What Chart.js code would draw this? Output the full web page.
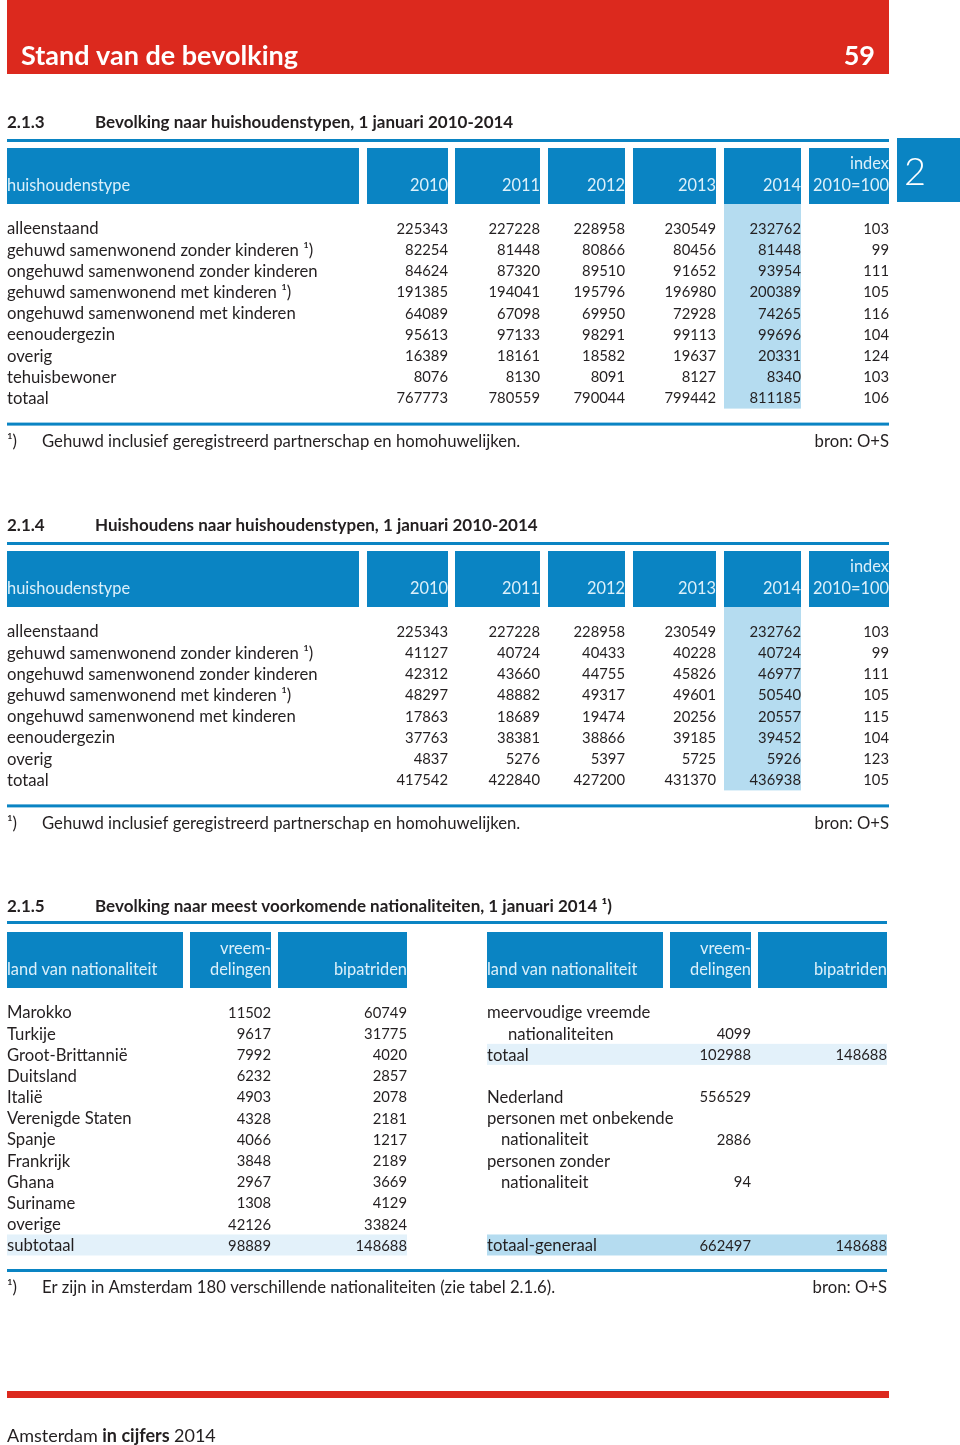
<!DOCTYPE html>
<html lang="nl">
<head>
<meta charset="UTF-8">
<title>Stand van de bevolking</title>
<script src="https://cdn.jsdelivr.net/npm/chart.js"></script>
<style>
  body { margin: 0; background: #fff; }
  canvas { display: block; }
</style>
</head>
<body>
<canvas id="pagina" width="960" height="1445"></canvas>
<script>
// tabel 2.1.3
const t213Types = ['alleenstaand', 'gehuwd samenwonend zonder kinderen \u00b9)', 'ongehuwd samenwonend zonder kinderen',
  'gehuwd samenwonend met kinderen \u00b9)', 'ongehuwd samenwonend met kinderen', 'eenoudergezin', 'overig', 'tehuisbewoner', 'totaal'];
const t213_2010 = [225343, 82254, 84624, 191385, 64089, 95613, 16389, 8076, 767773];
const t213_2011 = [227228, 81448, 87320, 194041, 67098, 97133, 18161, 8130, 780559];
const t213_2012 = [228958, 80866, 89510, 195796, 69950, 98291, 18582, 8091, 790044];
const t213_2013 = [230549, 80456, 91652, 196980, 72928, 99113, 19637, 8127, 799442];
const t213_2014 = [232762, 81448, 93954, 200389, 74265, 99696, 20331, 8340, 811185];
const t213_index = [103, 99, 111, 105, 116, 104, 124, 103, 106];

// tabel 2.1.4
const t214Types = ['alleenstaand', 'gehuwd samenwonend zonder kinderen \u00b9)', 'ongehuwd samenwonend zonder kinderen',
  'gehuwd samenwonend met kinderen \u00b9)', 'ongehuwd samenwonend met kinderen', 'eenoudergezin', 'overig', 'totaal'];
const t214_2010 = [225343, 41127, 42312, 48297, 17863, 37763, 4837, 417542];
const t214_2011 = [227228, 40724, 43660, 48882, 18689, 38381, 5276, 422840];
const t214_2012 = [228958, 40433, 44755, 49317, 19474, 38866, 5397, 427200];
const t214_2013 = [230549, 40228, 45826, 49601, 20256, 39185, 5725, 431370];
const t214_2014 = [232762, 40724, 46977, 50540, 20557, 39452, 5926, 436938];
const t214_index = [103, 99, 111, 105, 115, 104, 123, 105];

const jaren = ['2010', '2011', '2012', '2013', '2014'];

// tabel 2.1.5 links
const landen = ['Marokko', 'Turkije', 'Groot-Brittanni\u00eb', 'Duitsland', 'Itali\u00eb', 'Verenigde Staten', 'Spanje',
  'Frankrijk', 'Ghana', 'Suriname', 'overige', 'subtotaal'];
const vreemdelingen = [11502, 9617, 7992, 6232, 4903, 4328, 4066, 3848, 2967, 1308, 42126, 98889];
const bipatriden = [60749, 31775, 4020, 2857, 2078, 2181, 1217, 2189, 3669, 4129, 33824, 148688];

// tabel 2.1.5 rechts (null = leeg)
const overigLabels = ['meervoudige vreemde', 'nationaliteiten', 'totaal', '', 'Nederland', 'personen met onbekende',
  'nationaliteit', 'personen zonder', 'nationaliteit', '', '', 'totaal-generaal'];
const overigInspring = [0, 21, 0, 0, 0, 0, 14, 0, 14, 0, 0, 0];
const overigVreemd = [null, 4099, 102988, null, 556529, null, 2886, null, 94, null, null, 662497];
const overigBipatr = [null, null, 148688, null, null, null, null, null, null, null, null, 148688];

const BLAUW = '#0a84c3';
const LICHT = '#b5dcf0';
const ZACHT = '#e3f1fa';
const KOPTEKST = '#dcf0fa';
const TEKST = '#231f20';
const ROOD = '#dc291e';
const FONT = 'Lato, "Open Sans", sans-serif';
const LBL = 16.7;   // rijlabels
const NUM = 14.8;   // getallen

const tabelPlugin = {
  id: 'tabellen',
  afterDraw(chart) {
    const c = chart.ctx;
    const sx = chart.scales.x, sy = chart.scales.y;
    const X = v => sx.getPixelForValue(v);
    const Y = v => sy.getPixelForValue(v);
    const rect = (x0, y0, x1, y1, kleur) => {
      c.fillStyle = kleur;
      c.fillRect(X(x0), Y(y0), X(x1) - X(x0), Y(y1) - Y(y0));
    };
    const tekst = (t, x, y, opt = {}) => {
      c.font = (opt.w || '400') + ' ' + (opt.s || LBL) + 'px ' + FONT;
      c.fillStyle = opt.k || TEKST;
      c.textAlign = opt.a || 'left';
      c.textBaseline = 'middle';
      c.fillText(t, X(x), Y(y + 1));
    };
    const getal = (v, x, y) => tekst(String(v), x, y, { s: NUM, a: 'right' });
    const kop = (t, x, y, a) => tekst(t, x, y, { s: 16.4, k: KOPTEKST, a: a || 'left' });

    // paginakop
    rect(7, 0, 889, 74, ROOD);
    tekst('Stand van de bevolking', 21, 55, { s: 27, w: '700', k: '#fff' });
    tekst('59', 875, 55, { s: 27, w: '700', k: '#fff', a: 'right' });

    // hoofdstuktab
    rect(897, 138, 960, 202, BLAUW);
    tekst('2', 904, 172, { s: 38, w: '300', k: '#fff' });

    // tabel met jaren (2.1.3 en 2.1.4)
    const jaarTabel = (top, nr, titel, types, kolommen, index) => {
      tekst(nr, 7, top + 1, { s: 17, w: '700' });
      tekst(titel, 95, top + 1, { s: 17, w: '700' });
      rect(7, top + 18, 889, top + 21, BLAUW);
      const koppen = [[7, 359], [367, 448], [455, 540], [548, 625], [633, 716], [724, 801], [809, 889]];
      const r0 = top + 107, stap = 21.2;
      const onder = r0 + (types.length - 1) * stap + 11;
      rect(724, top + 83, 801, onder, LICHT);
      koppen.forEach(k => rect(k[0], top + 27, k[1], top + 83, BLAUW));
      kop('huishoudenstype', 7, top + 64);
      jaren.forEach((j, i) => kop(j, koppen[i + 1][1], top + 64, 'right'));
      kop('index', 889, top + 42, 'right');
      kop('2010=100', 889, top + 64, 'right');
      types.forEach((t, r) => {
        const y = r0 + r * stap;
        tekst(t, 7, y);
        kolommen.forEach((kol, i) => getal(kol[r], koppen[i + 1][1], y));
        getal(index[r], 889, y);
      });
      const lijn = onder + 14;
      rect(7, lijn, 889, lijn + 3, BLAUW);
      tekst('\u00b9)', 7, lijn + 18);
      tekst('Gehuwd inclusief geregistreerd partnerschap en homohuwelijken.', 42, lijn + 18);
      tekst('bron: O+S', 889, lijn + 18, { a: 'right' });
    };

    jaarTabel(121, '2.1.3', 'Bevolking naar huishoudenstypen, 1 januari 2010-2014', t213Types,
      [t213_2010, t213_2011, t213_2012, t213_2013, t213_2014], t213_index);
    jaarTabel(524, '2.1.4', 'Huishoudens naar huishoudenstypen, 1 januari 2010-2014', t214Types,
      [t214_2010, t214_2011, t214_2012, t214_2013, t214_2014], t214_index);

    // tabel 2.1.5
    const top = 905;
    tekst('2.1.5', 7, top + 1, { s: 17, w: '700' });
    tekst('Bevolking naar meest voorkomende nationaliteiten, 1 januari 2014 \u00b9)', 95, top + 1, { s: 17, w: '700' });
    rect(7, top + 16, 887, top + 19, BLAUW);
    const r0 = 1012, stap = 21.18;
    const blok = (x0, labels, inspring, v, b, hl) => {
      const k = [[x0, x0 + 176], [x0 + 183, x0 + 264], [x0 + 271, x0 + 400]];
      k.forEach(kk => rect(kk[0], 932, kk[1], 988, BLAUW));
      kop('land van nationaliteit', x0, 969);
      kop('vreem-', k[1][1], 948, 'right');
      kop('delingen', k[1][1], 969, 'right');
      kop('bipatriden', k[2][1], 969, 'right');
      labels.forEach((l, r) => {
        const y = r0 + r * stap;
        if (hl[r]) rect(x0, y - 10.5, k[2][1], y + 10.5, hl[r]);
        tekst(l, x0 + inspring[r], y);
        if (v[r] !== null) getal(v[r], k[1][1], y);
        if (b[r] !== null) getal(b[r], k[2][1], y);
      });
    };
    const hlLinks = {}; hlLinks[11] = ZACHT;
    const hlRechts = {}; hlRechts[2] = ZACHT; hlRechts[11] = LICHT;
    blok(7, landen, landen.map(() => 0), vreemdelingen, bipatriden, hlLinks);
    blok(487, overigLabels, overigInspring, overigVreemd, overigBipatr, hlRechts);
    rect(7, 1269, 887, 1272, BLAUW);
    tekst('\u00b9)', 7, 1287);
    tekst('Er zijn in Amsterdam 180 verschillende nationaliteiten (zie tabel 2.1.6).', 42, 1287);
    tekst('bron: O+S', 887, 1287, { a: 'right' });

    // voet
    rect(7, 1391, 889, 1398, ROOD);
    c.font = '400 18px ' + FONT;
    const w1 = c.measureText('Amsterdam ').width;
    tekst('Amsterdam ', 7, 1435, { s: 18 });
    c.font = '700 18px ' + FONT;
    const w2 = c.measureText('in cijfers ').width;
    tekst('in cijfers ', 7 + w1, 1435, { s: 18, w: '700' });
    tekst('2014', 7 + w1 + w2, 1435, { s: 18 });
  }
};

new Chart(document.getElementById('pagina'), {
  type: 'scatter',
  data: { datasets: [] },
  options: {
    responsive: false,
    animation: false,
    layout: { padding: 0 },
    plugins: { legend: { display: false }, tooltip: { enabled: false } },
    scales: {
      x: { type: 'linear', min: 0, max: 960, display: false },
      y: { type: 'linear', min: 0, max: 1445, reverse: true, display: false }
    }
  },
  plugins: [tabelPlugin]
});
</script>
</body>
</html>
